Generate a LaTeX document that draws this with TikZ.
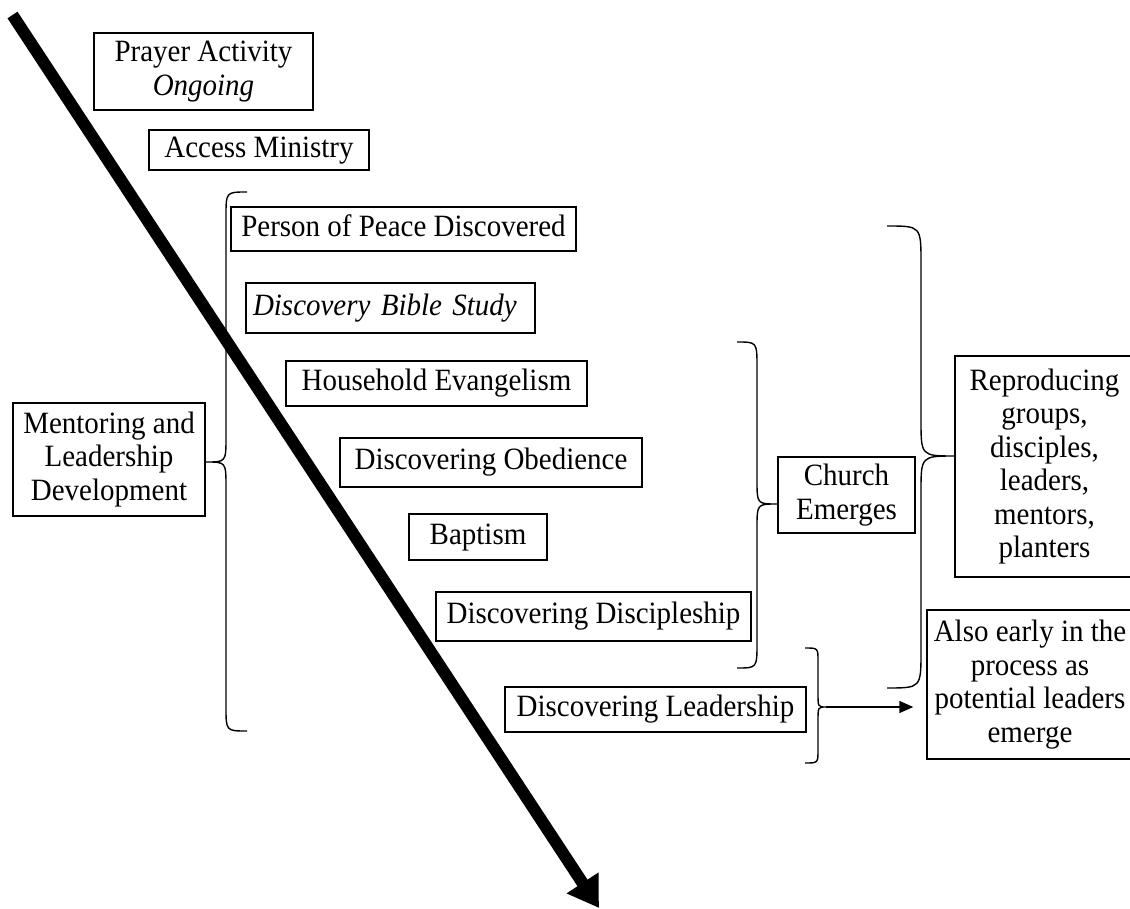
\documentclass[tikz,border=0pt]{standalone}
\usepackage{fontspec}
\setmainfont[FakeStretch=0.935]{Liberation Serif}
\usetikzlibrary{arrows.meta}
\newcommand\wordbrace[8]{%
  \draw[bracestyle] (#1,#4) .. controls (#2,#4) .. (#2,{#4+#7}) -- (#2,{#5-#8})
    .. controls (#2,#5) .. (#3,#5) .. controls (#2,#5) .. (#2,{#5+#8})
    -- (#2,{#6-#7}) .. controls (#2,#6) .. (#1,#6);}
\begin{document}
\begin{tikzpicture}[x=1pt,y=-1pt,
  box/.style={draw, line width=1.4pt, fill=white, inner sep=0pt, font=\fontsize{31pt}{33.5pt}\selectfont},
  one/.style={box, text height=21pt, text depth=6.7pt},
  many/.style={box, align=center},
  bracestyle/.style={line width=1.4pt},
]
\fill[white] (0,0) rectangle (1130,909);
\useasboundingbox (0,0) rectangle (1130,909);

% boxes
\node[many, minimum width=219pt, minimum height=77pt] (prayer) at (203.5,71.5) {Prayer Activity\\\textit{Ongoing}};
\node[one, minimum width=220pt, minimum height=40pt] (access) at (259,150) {Access Ministry};
\node[one, minimum width=345pt, minimum height=44pt] (person) at (403.5,229) {Person of Peace Discovered};
\node[one, minimum width=289pt, minimum height=50pt, text width=275pt, align=left] (dbs) at (390.5,308) {\textit{Discovery Bible Study}};
\node[one, minimum width=301pt, minimum height=45pt] (household) at (436.5,383.5) {Household Evangelism};
\node[one, minimum width=302pt, minimum height=49pt] (obedience) at (491,462.5) {Discovering Obedience};
\node[one, minimum width=138pt, minimum height=46pt] (baptism) at (478,537) {Baptism};
\node[one, minimum width=315pt, minimum height=49pt] (discipleship) at (593.5,616.5) {Discovering Discipleship};
\node[one, minimum width=301pt, minimum height=45pt] (leadership) at (655.5,709.5) {Discovering Leadership};
\node[many, minimum width=192pt, minimum height=113pt] (mentoring) at (109,459.5) {Mentoring and\\Leadership\\Development};
\node[many, minimum width=137pt, minimum height=76pt] (church) at (846.5,495) {Church\\Emerges};
\node[many, minimum width=179pt, minimum height=221pt] (reproducing) at (1044.5,466.5) {Reproducing\\groups,\\disciples,\\leaders,\\mentors,\\planters};
\node[many, minimum width=206pt, minimum height=149pt] (early) at (1030,684.5) {Also early in the\\process as\\potential leaders\\emerge};

% braces
\wordbrace{247}{226}{206}{192}{462}{731}{24}{25}
\wordbrace{737}{757}{777}{342}{504}{668}{25}{24}
\wordbrace{887}{921}{955}{226}{456}{688}{37}{36}
\wordbrace{805}{818}{826}{648}{707}{763}{13}{14}

\coordinate (ltip) at (826,707);
\draw[line width=1.4pt, -{Triangle[length=14pt,width=12pt]}, shorten >=13pt] (ltip) -- (ltip -| early.west);

% big arrow
\coordinate (as) at (12.5,15);
\coordinate (ae) at (599,908);
\draw[line width=12pt, -{Triangle[length=30pt,width=36pt]}] (as) -- (ae);
\end{tikzpicture}
\end{document}
